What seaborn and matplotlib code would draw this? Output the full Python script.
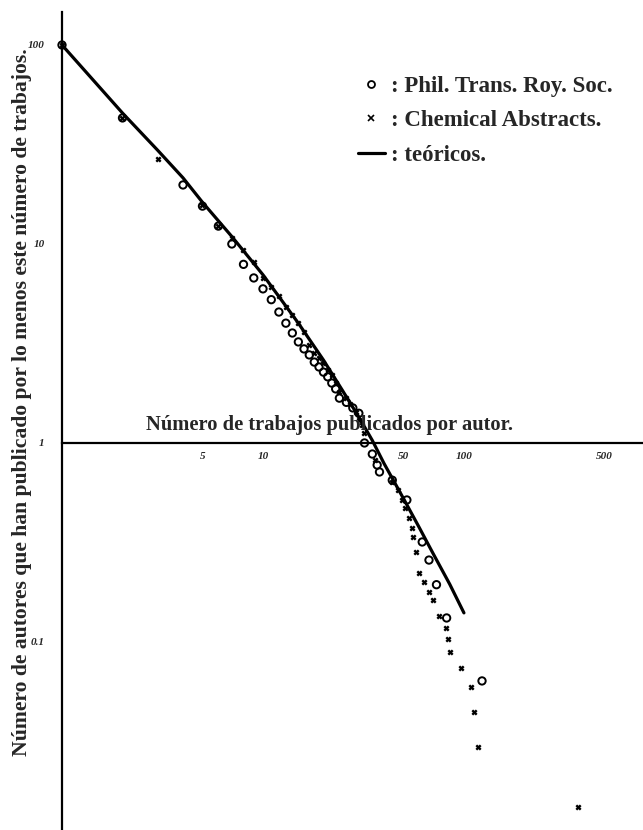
import numpy as np
import pandas as pd
import seaborn as sns
import matplotlib
matplotlib.use("Agg")
import matplotlib.pyplot as plt
from matplotlib.lines import Line2D
from matplotlib.ticker import FixedLocator, NullLocator

# curva teórica (n, % autores con >= n trabajos)
teo_n = [1, 2, 3, 4, 5, 7, 10, 15, 20, 25, 30, 35, 40, 50, 60, 70, 85, 100]
teo_y = [100, 45.5, 29.5, 21.5, 16.2, 10.9, 7.0, 4.0, 2.61, 1.82, 1.35, 1.03, 0.79,
         0.526, 0.375, 0.28, 0.195, 0.14]

# Phil. Trans. Roy. Soc. (círculos)
phil_n = [1, 2, 4, 5, 6, 7, 8, 9, 10, 11, 12, 13, 14, 15, 16, 17, 18, 19, 20,
          21, 22, 23, 24, 26, 28, 30, 32, 35, 37, 38, 44, 52, 62, 67, 73, 82, 123]
phil_y = [100, 43, 19.8, 15.5, 12.3, 10.0, 7.9, 6.75, 5.95, 5.25, 4.55, 4.0, 3.57,
          3.22, 2.97, 2.77, 2.55, 2.41, 2.27, 2.15, 2.0, 1.87, 1.68, 1.6, 1.5, 1.41,
          1.0, 0.88, 0.775, 0.715, 0.65, 0.517, 0.318, 0.258, 0.194, 0.132, 0.0637]

# Chemical Abstracts (cruces)
chem_n = [1, 2, 3, 5, 6, 7, 8, 9, 10, 11, 12, 13, 14, 15, 16, 17, 18, 19, 20, 21,
          22, 23, 24, 26, 27, 29, 30, 31, 32, 36, 44, 47, 49, 51, 53, 55, 56, 58, 60,
          63, 67, 70, 75, 81, 83, 85, 97, 108, 112, 117, 369]
chem_y = [100, 43, 26.7, 15.7, 12.3, 10.7, 9.3, 8.1, 6.75, 6.07, 5.5, 4.8, 4.4, 4.0,
          3.6, 3.1, 2.83, 2.67, 2.52, 2.33, 2.2, 2.0, 1.8, 1.68, 1.57, 1.43, 1.3, 1.23,
          1.12, 0.82, 0.637, 0.58, 0.517, 0.47, 0.42, 0.374, 0.337, 0.283, 0.222, 0.2,
          0.178, 0.163, 0.135, 0.118, 0.103, 0.089, 0.0741, 0.0593, 0.0445, 0.0296, 0.0148]

x_ticks = [5, 10, 50, 100, 500]
x_ticklabels = ["5", "10", "50", "100", "500"]
y_ticks = [0.1, 1, 10, 100]
y_ticklabels = ["0.1", "1", "10", "100"]

sns.set_style("white")
plt.rcParams['font.family'] = ['Liberation Serif', 'DejaVu Serif']

fig = plt.figure(figsize=(6.43, 8.30), dpi=100)
ax = fig.add_axes([62 / 643, 0, 581 / 643, 818 / 830])

teo = pd.DataFrame({'n': teo_n, 'y': teo_y})
phil = pd.DataFrame({'n': phil_n, 'y': phil_y})
chem = pd.DataFrame({'n': chem_n, 'y': chem_y})

sns.lineplot(data=teo, x='n', y='y', ax=ax, color='black', lw=2.3, clip_on=False)
sns.scatterplot(data=phil, x='n', y='y', ax=ax, marker='o', s=28, facecolor='none',
                edgecolor='black', linewidth=1.4, clip_on=False, zorder=3)
sns.scatterplot(data=chem, x='n', y='y', ax=ax, marker='x', s=10, color='black',
                linewidth=1.7, clip_on=False, zorder=3)

ax.set_xscale('log')
ax.set_yscale('log')
ax.set_xlim(1, 778)
ax.set_ylim(0.01135, 146.5)

for s in ['top', 'right']:
    ax.spines[s].set_visible(False)
ax.spines['bottom'].set_position(('data', 1))
for s in ['bottom', 'left']:
    ax.spines[s].set_linewidth(1.6)
    ax.spines[s].set_color('black')

ax.xaxis.set_major_locator(FixedLocator(x_ticks))
ax.xaxis.set_minor_locator(NullLocator())
ax.set_xticklabels(x_ticklabels)
ax.yaxis.set_major_locator(FixedLocator(y_ticks))
ax.yaxis.set_minor_locator(NullLocator())
ax.set_yticklabels(y_ticklabels)
ax.tick_params(axis='both', direction='inout', length=5, width=1.2, color='black',
               labelsize=8)
ax.tick_params(axis='y', pad=10)
ax.tick_params(axis='x', pad=4)
for lab in ax.get_xticklabels() + ax.get_yticklabels():
    lab.set_fontstyle('italic')
    lab.set_fontweight('bold')

ax.set_xlabel('')
ax.set_ylabel('')

fig.text(330 / 643, 1 - 425 / 830, 'Número de trabajos publicados por autor.',
         ha='center', va='center', fontsize=14.8, fontweight='bold')
fig.text(22 / 643, 1 - 402 / 830,
         'Número de autores que han publicado por lo menos este número de trabajos.',
         ha='center', va='center', rotation=90, fontsize=15.6, fontweight='bold')

handles = [
    Line2D([], [], marker='o', ls='none', mfc='none', mec='black', ms=5, mew=1.3),
    Line2D([], [], marker='x', ls='none', color='black', ms=4, mew=1.2),
    Line2D([], [], color='black', lw=2.3),
]
labels = [': Phil. Trans. Roy. Soc.', ': Chemical Abstracts.', ': teóricos.']
leg = ax.legend(handles, labels, loc='upper left', bbox_to_anchor=(337 / 643, 1 - 55 / 830),
                bbox_transform=fig.transFigure, frameon=False, handlelength=1.2,
                handletextpad=0.25, labelspacing=0.6, prop={'size': 16.5, 'weight': 'bold'})

fig.savefig('out.png', dpi=100)
